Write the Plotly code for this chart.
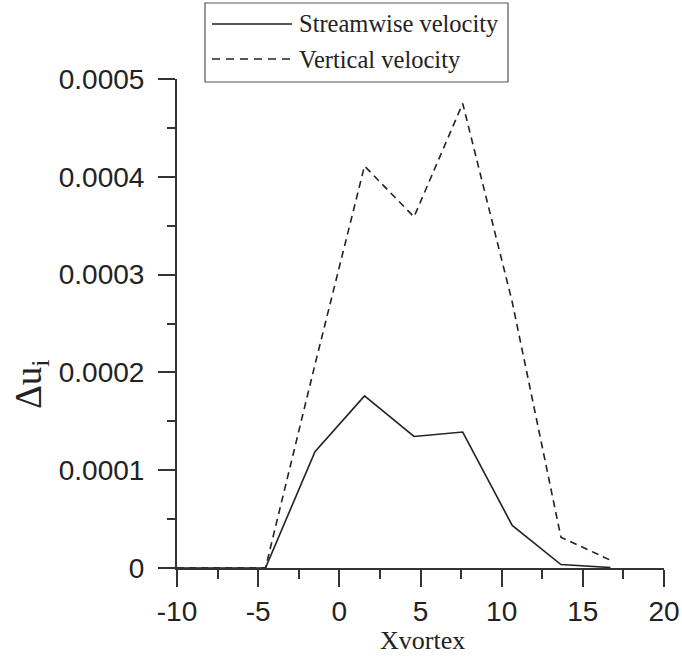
import plotly.graph_objects as go

# Vortex position and velocity perturbation magnitudes
xvortex = [-10, -7.55, -4.55, -1.5, 1.55, 4.6, 7.6, 10.65, 13.65, 16.7]
streamwise = [0, 0, 0, 1.19e-4, 1.76e-4, 1.345e-4, 1.39e-4, 0.435e-4, 0.035e-4, 0.005e-4]
vertical = [0, 0, 0, 2.08e-4, 4.11e-4, 3.59e-4, 4.75e-4, 2.72e-4, 0.315e-4, 0.08e-4]

y_ticks = [0, 0.0001, 0.0002, 0.0003, 0.0004, 0.0005]
y_tick_labels = ["0", "0.0001", "0.0002", "0.0003", "0.0004", "0.0005"]
x_ticks = [-10, -5, 0, 5, 10, 15, 20]
x_tick_labels = ["-10", "-5", "0", "5", "10", "15", "20"]

series_names = ["Streamwise velocity", "Vertical velocity"]

INK = "#222222"
SERIF = "Liberation Serif, Times New Roman, serif"
SANS = "Liberation Sans, Arial, sans-serif"

fig = go.Figure()
fig.add_trace(go.Scatter(x=xvortex, y=streamwise, mode="lines", name=series_names[0],
                         line=dict(color=INK, width=1.6), showlegend=False))
fig.add_trace(go.Scatter(x=xvortex, y=vertical, mode="lines", name=series_names[1],
                         line=dict(color=INK, width=1.6, dash="7px,5px"), showlegend=False))

W, H = 682, 657
L, R, T, B = 177, 664, 79, 568


def px(xp):
    return (xp - L) / (R - L)


def py(yp):
    return (B - yp) / (B - T)


# Boxed legend with long line samples
shapes = [
    dict(type="rect", xref="paper", yref="paper", x0=px(205), x1=px(508), y0=py(82), y1=py(3),
         line=dict(color="#555555", width=1.2), fillcolor="white", layer="above"),
    dict(type="line", xref="paper", yref="paper", x0=px(212), x1=px(292), y0=py(24), y1=py(24),
         line=dict(color=INK, width=1.6)),
    dict(type="line", xref="paper", yref="paper", x0=px(212), x1=px(292), y0=py(59), y1=py(59),
         line=dict(color=INK, width=1.6, dash="8px,6px")),
]

annotations = [
    dict(xref="paper", yref="paper", x=px(297), y=py(24), xanchor="left", yanchor="middle",
         text=series_names[0], showarrow=False, font=dict(family=SERIF, size=24.5, color=INK)),
    dict(xref="paper", yref="paper", x=px(297), y=py(59), xanchor="left", yanchor="middle",
         text=series_names[1], showarrow=False, font=dict(family=SERIF, size=24.5, color=INK)),
    dict(xref="paper", yref="paper", x=px(422), y=py(640), xanchor="center", yanchor="middle",
         text="Xvortex", showarrow=False, font=dict(family=SERIF, size=26, color=INK)),
    dict(xref="paper", yref="paper", x=px(31), y=py(384), xanchor="center", yanchor="middle",
         text="Δu<sub>i</sub>", textangle=-90, showarrow=False,
         font=dict(family=SERIF, size=37, color=INK)),
]

fig.update_layout(
    width=W, height=H,
    margin=dict(l=L, r=W - R, t=T, b=H - B, autoexpand=False),
    paper_bgcolor="white", plot_bgcolor="white",
    shapes=shapes, annotations=annotations,
    xaxis=dict(range=[-10, 20], tickvals=x_ticks, ticktext=x_tick_labels, automargin=False,
               showgrid=False, zeroline=False, showline=True, linecolor="#333333", linewidth=2,
               ticks="outside", ticklen=17, tickwidth=2, tickcolor="#333333",
               minor=dict(dtick=2.5, tick0=-10, ticks="outside", ticklen=9, tickwidth=2,
                          tickcolor="#333333", showgrid=False),
               tickfont=dict(family=SANS, size=28, color=INK)),
    yaxis=dict(range=[0, 0.0005], tickvals=y_ticks, ticktext=y_tick_labels, automargin=False,
               showgrid=False, zeroline=False, showline=True, linecolor="#333333", linewidth=2,
               ticks="outside", ticklen=17, tickwidth=2, tickcolor="#333333",
               ticklabelstandoff=8,
               minor=dict(dtick=0.00005, tick0=0, ticks="outside", ticklen=8, tickwidth=2,
                          tickcolor="#333333", showgrid=False),
               tickfont=dict(family=SANS, size=28, color=INK)),
)

fig.write_html("out.html")
